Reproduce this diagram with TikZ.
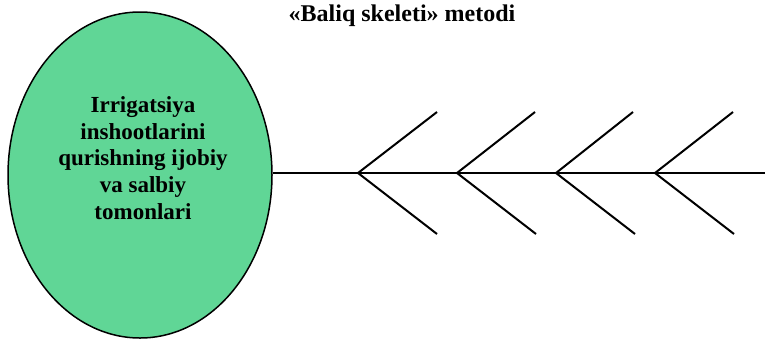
\documentclass[tikz,border=0pt]{standalone}
\usepackage{fontspec}
\setmainfont{Liberation Serif}
\usetikzlibrary{shapes.geometric}
\definecolor{fishgreen}{RGB}{96,214,150}
\begin{document}
\begin{tikzpicture}[x=1pt,y=-1pt,
  bone/.style={line width=2pt},
  head/.style={ellipse,draw=black,line width=1.5pt,fill=fishgreen,minimum width=264pt,minimum height=326pt,inner sep=0pt}]
\useasboundingbox (0,0) rectangle (765,338);

\node[font=\bfseries\fontsize{24}{26}\selectfont] (title) at (402,16) {«Baliq skeleti» metodi};

\node[head] (fish) at (140,175) {};
\node[font=\bfseries\fontsize{23}{26.8}\selectfont,align=center] (topic) at (143,158) {Irrigatsiya\\inshootlarini\\qurishning ijobiy\\va salbiy\\tomonlari};

\coordinate (tail) at (765,173);
\coordinate (v1) at (358,173);
\coordinate (v2) at (457,173);
\coordinate (v3) at (556,173);
\coordinate (v4) at (655,173);
\coordinate (u1) at (437,112);
\coordinate (u2) at (535,112);
\coordinate (u3) at (633,112);
\coordinate (u4) at (733,112);
\coordinate (d1) at (437,234);
\coordinate (d2) at (536,234);
\coordinate (d3) at (635,234);
\coordinate (d4) at (734,234);

\draw[bone] (fish.east |- tail) to (tail);

\draw[bone] (u1) to (v1) to (d1);
\draw[bone] (u2) to (v2) to (d2);
\draw[bone] (u3) to (v3) to (d3);
\draw[bone] (u4) to (v4) to (d4);

\end{tikzpicture}
\end{document}
